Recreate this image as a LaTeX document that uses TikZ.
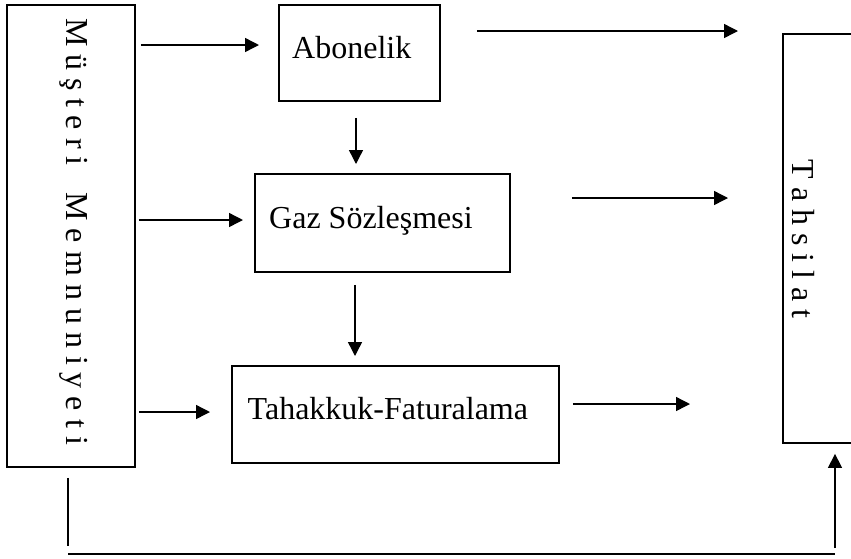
\documentclass[tikz,border=0pt]{standalone}
\usepackage{fontspec}
\setmainfont{Liberation Serif}
\usetikzlibrary{arrows.meta}
\begin{document}
\begin{tikzpicture}[x=1pt,y=-1pt,
  box/.style={draw, line width=1.9pt, inner sep=0pt, anchor=north west},
  lbl/.style={font=\fontsize{32}{38}\selectfont, inner sep=0pt, anchor=base west},
  vlbl/.style={font=\fontsize{32}{38}\selectfont, inner sep=0pt, rotate=-90},
  arr/.style={line width=1.4pt, -{Triangle[length=14pt,width=14pt]}},
  ln/.style={line width=1.4pt}]
\useasboundingbox (0,0) rectangle (851,558);
\clip (0,0) rectangle (851,558);

% boxes
\node[box, minimum width=128pt, minimum height=462pt] (mm) at (6,4) {};
\node[box, minimum width=161pt, minimum height=96pt] (abon) at (278,4) {};
\node[box, minimum width=255pt, minimum height=98pt] (gaz) at (254,173) {};
\node[box, minimum width=327pt, minimum height=97pt] (tah) at (231,365) {};
\node[box, minimum width=90pt, minimum height=409pt] (tahs) at (782,33) {};

% labels
\node[lbl] (tabon) at (292,58) {Abonelik};
\node[lbl] (tgaz) at (269,228) {Gaz Sözleşmesi};
\node[lbl] (ttah) at (247.5,419) {Tahakkuk-Faturalama};
\node[vlbl] (tmm) at (74,231.5) {M ü ş t e r i\hspace{27pt}M e m n u n i y e t i};
\node[vlbl] (ttahs) at (803,239) {T a h s i l a t};

% from the left box into the process boxes
\draw[arr, shorten <=5pt, shorten >=19pt] (mm.east |- 0,45) -- (abon.west |- 0,45);
\draw[arr, shorten <=3pt, shorten >=11pt] (mm.east |- 0,220) -- (gaz.west |- 0,220);
\draw[arr, shorten <=3pt, shorten >=21pt] (mm.east |- 0,412) -- (tah.west |- 0,412);

% down the process chain
\draw[arr, shorten <=16pt, shorten >=9pt] (abon.south -| 356,0) -- (gaz.north -| 356,0);
\draw[arr, shorten <=12pt, shorten >=9pt] (gaz.south -| 355,0) -- (tah.north -| 355,0);

% from the process boxes towards Tahsilat
\draw[arr, shorten <=36pt, shorten >=44pt] (abon.east |- 0,31) -- (tahs.west |- 0,31);
\draw[arr, shorten <=61pt, shorten >=54pt] (gaz.east |- 0,198) -- (tahs.west |- 0,198);
\draw[arr, shorten <=13pt, shorten >=92pt] (tah.east |- 0,404) -- (tahs.west |- 0,404);

% return path along the bottom
\coordinate (b1) at (68,546);
\coordinate (b2) at (68,554);
\coordinate (b3) at (835,554);
\coordinate (b4) at (835,548);
\draw[ln, shorten <=10pt] (mm.south -| b1) -- (b1);
\draw[ln] (b2) -- (b3);
\draw[arr, shorten >=10pt] (b4) -- (tahs.south -| b4);
\end{tikzpicture}
\end{document}
